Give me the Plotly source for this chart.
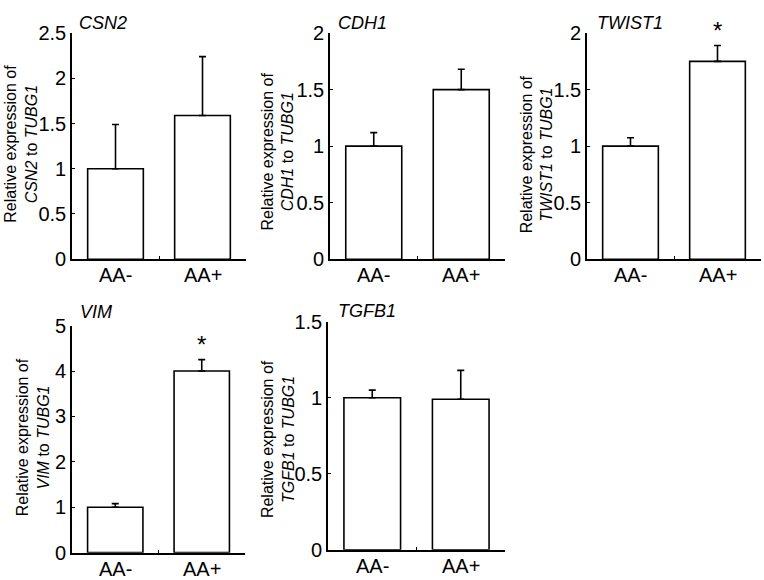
import plotly.graph_objects as go

categories = ["AA-", "AA+"]
genes = ["CSN2", "CDH1", "TWIST1", "VIM", "TGFB1"]
csn2_mean = [1.0, 1.59]
csn2_err = [0.49, 0.65]
cdh1_mean = [1.0, 1.50]
cdh1_err = [0.12, 0.18]
twist1_mean = [1.0, 1.75]
twist1_err = [0.075, 0.14]
vim_mean = [1.0, 4.0]
vim_err = [0.08, 0.25]
tgfb1_mean = [1.0, 0.99]
tgfb1_err = [0.05, 0.19]
y_max = [2.5, 2.0, 2.0, 5.0, 1.5]
y_dtick = [0.5, 0.5, 0.5, 1.0, 0.5]
significant = [[False, False], [False, False], [False, True], [False, True], [False, False]]

means = [csn2_mean, cdh1_mean, twist1_mean, vim_mean, tgfb1_mean]
errs = [csn2_err, cdh1_err, twist1_err, vim_err, tgfb1_err]

W, H = 764, 580
# panel boxes in pixels: (left, right, top, bottom)
boxes = [(72, 246, 23, 258), (330, 505, 23, 258), (587, 761, 23, 258),
         (72, 245, 327, 563), (328, 505, 323, 560)]
title_pos = [(77, 12), (336, 12), (595, 12), (78, 313), (336, 312)]
ytitle_pos = [(21, 138), (278, 146), (537, 149), (33, 443), (278, 445)]


def px(x):
    return x / W


def py(y):
    return 1 - y / H


FONT = "Arial, Liberation Sans, sans-serif"
fig = go.Figure()
annotations = []
for i, g in enumerate(genes):
    l, r, t, b = boxes[i]
    xa = "x" if i == 0 else f"x{i+1}"
    ya = "y" if i == 0 else f"y{i+1}"
    fig.add_trace(go.Bar(
        x=categories, y=means[i], xaxis=xa, yaxis=ya,
        marker=dict(color="white", line=dict(color="black", width=1.6)),
        width=0.64,
        error_y=dict(type="data", array=errs[i], arrayminus=[0, 0], symmetric=False,
                     color="black", thickness=1.6, width=3.5),
        showlegend=False, hoverinfo="skip"))
    axkey = "xaxis" if i == 0 else f"xaxis{i+1}"
    aykey = "yaxis" if i == 0 else f"yaxis{i+1}"
    fig.update_layout({
        axkey: dict(domain=[px(l), px(r)], anchor=ya, type="category",
                    range=[-0.5, 1.5], showline=True, linecolor="black", linewidth=1.6,
                    ticks="inside", ticklen=3, tickwidth=1.3, tickcolor="black",
                    tickson="boundaries", showgrid=False, zeroline=False,
                    showticklabels=False),
        aykey: dict(domain=[py(b), py(t)], anchor=xa,
                    range=[0, y_max[i]], dtick=y_dtick[i], tick0=0,
                    showline=True, linecolor="black", linewidth=1.6,
                    ticks="inside", ticklen=3, tickwidth=1.3, tickcolor="black",
                    showgrid=False, zeroline=False,
                    tickfont=dict(family=FONT, size=20, color="black")),
    })
    for c in categories:
        annotations.append(dict(text=c, x=c, y=0, xref=xa, yref=ya,
                                xanchor="center", yanchor="top", yshift=-3,
                                showarrow=False,
                                font=dict(family=FONT, size=20, color="black")))
    tx, ty = title_pos[i]
    annotations.append(dict(text=f"<i>{g}</i>", x=px(tx), y=py(ty), xref="paper", yref="paper",
                            xanchor="left", yanchor="middle", showarrow=False,
                            font=dict(family=FONT, size=18, color="black")))
    ax, ay = ytitle_pos[i]
    annotations.append(dict(text=f"Relative expression of<br><i>{g}</i> to <i>TUBG1</i>",
                            x=px(ax), y=py(ay), xref="paper", yref="paper",
                            xanchor="center", yanchor="middle", textangle=-90, showarrow=False,
                            font=dict(family=FONT, size=16, color="black")))
    for j, s in enumerate(significant[i]):
        if s:
            annotations.append(dict(text="*", x=categories[j], y=means[i][j] + errs[i][j],
                                    xref=xa, yref=ya, xanchor="center", yanchor="bottom",
                                    showarrow=False, yshift=0,
                                    font=dict(family=FONT, size=24, color="black")))

fig.update_layout(width=W, height=H, margin=dict(l=0, r=0, t=0, b=0),
                  paper_bgcolor="white", plot_bgcolor="white",
                  annotations=annotations, bargap=0.36)
fig.write_html("out.html", config={"displayModeBar": False},
               post_script="document.body.style.margin='0';document.body.style.overflow='hidden';")
